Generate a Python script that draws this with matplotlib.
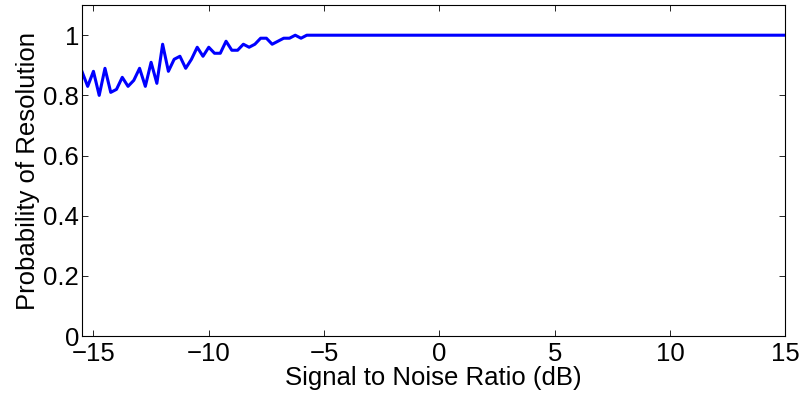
import numpy as np
import matplotlib
matplotlib.use("Agg")
import matplotlib.pyplot as plt

plt.rcParams['font.family'] = ['Liberation Sans', 'DejaVu Sans']

# SNR grid (dB) and probability of resolution
snr_start = -15.5
snr_step = 0.25
prob_noisy = [0.88, 0.83, 0.88, 0.80, 0.89, 0.81, 0.82, 0.86, 0.83, 0.85,
              0.89, 0.83, 0.91, 0.84, 0.97, 0.88, 0.92, 0.93, 0.89, 0.92,
              0.96, 0.93, 0.96, 0.94, 0.94, 0.98, 0.95, 0.95, 0.97, 0.96,
              0.97, 0.99, 0.99, 0.97, 0.98, 0.99, 0.99, 1.00, 0.99, 1.00]
snr = np.arange(snr_start, 15.0 + 1e-9, snr_step)
prob = np.concatenate([prob_noisy, np.ones(len(snr) - len(prob_noisy))])

xticks = [-15, -10, -5, 0, 5, 10, 15]
yticks = [0, 0.2, 0.4, 0.6, 0.8, 1]
ytick_labels = ["0", "0.2", "0.4", "0.6", "0.8", "1"]

fig = plt.figure(figsize=(8.03, 3.94), dpi=100)
ax = fig.add_axes([0.102, 0.147, 0.876, 0.840])
ax.plot(snr, prob, color="#0000ff", lw=2.2)

ax.set_xlim(snr_start, 15)
ax.set_ylim(0, 1.1)
ax.set_xticks(xticks)
ax.set_yticks(yticks)
ax.set_yticklabels(ytick_labels)
ax.tick_params(direction="in", top=True, right=True, length=4, width=0.6,
               labelsize=18.5)
ax.tick_params(axis="x", pad=4)
ax.tick_params(axis="y", pad=2)
for s in ax.spines.values():
    s.set_linewidth(0.8)

ax.set_xlabel("Signal to Noise Ratio (dB)", fontsize=18.5, labelpad=0)
ax.set_ylabel("Probability of Resolution", fontsize=18.5, labelpad=2)

fig.savefig("out.png", dpi=100)
